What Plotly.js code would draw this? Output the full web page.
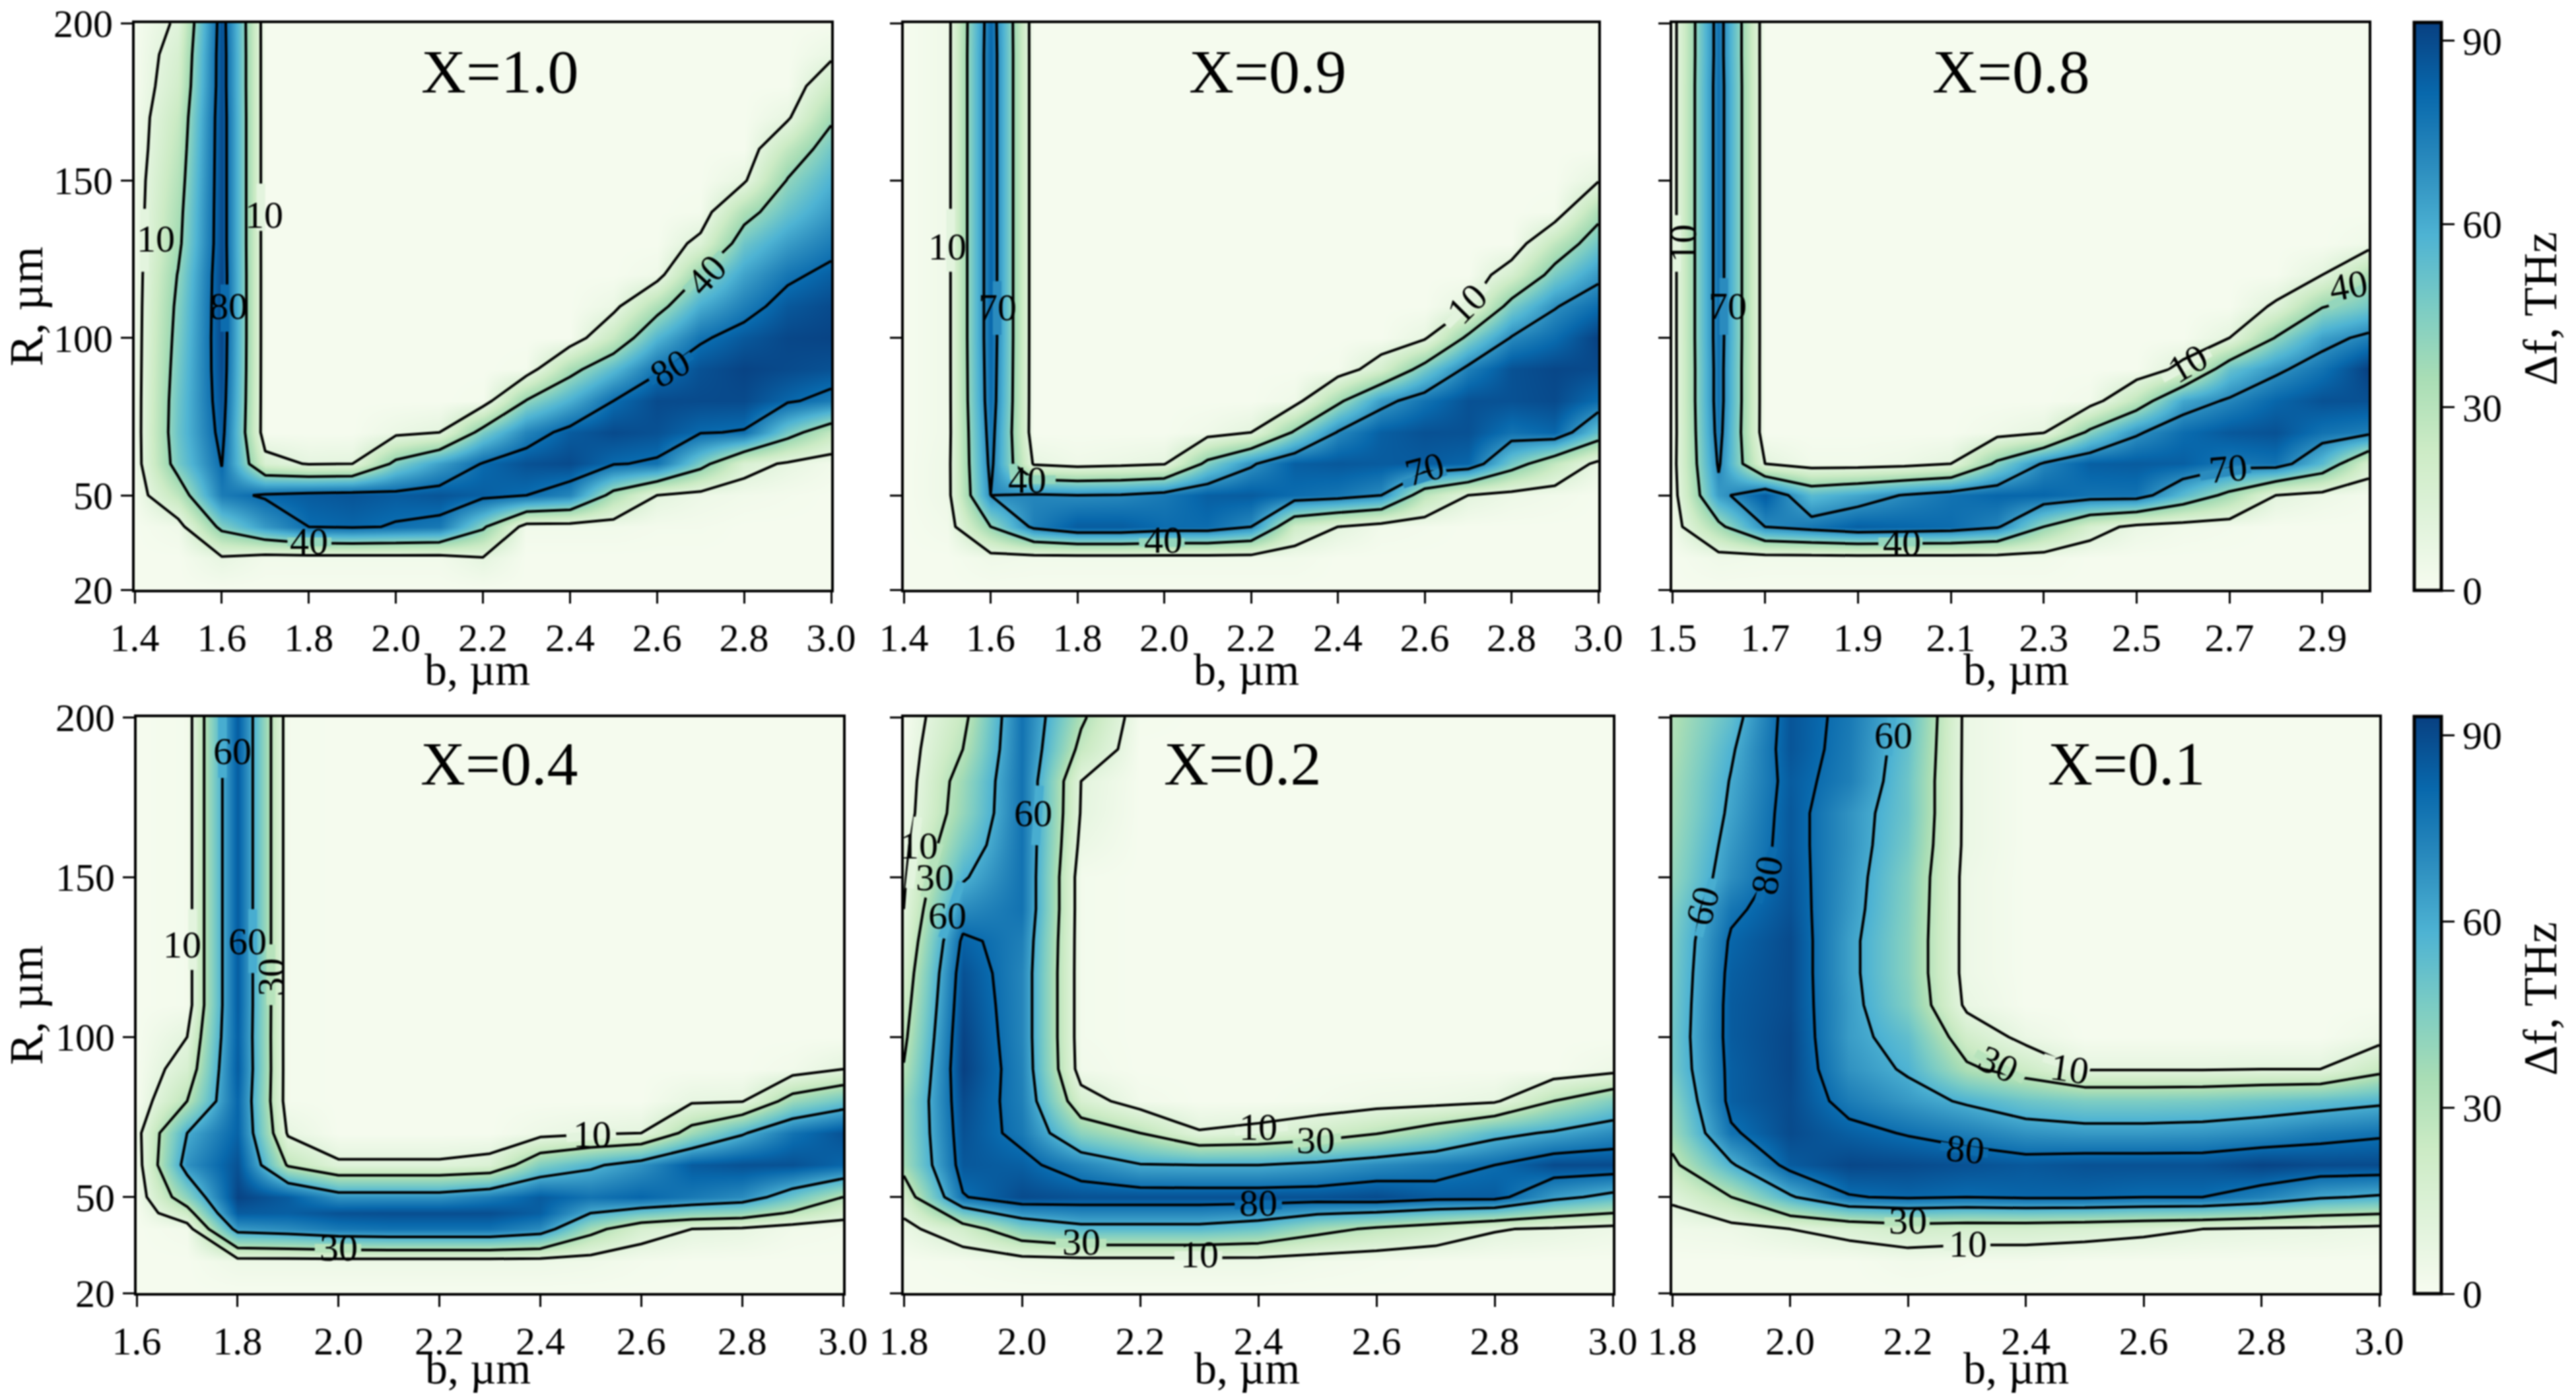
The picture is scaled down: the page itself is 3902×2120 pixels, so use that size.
<!DOCTYPE html>
<html><head><meta charset="utf-8">
<script src="https://cdn.plot.ly/plotly-3.0.1.min.js"></script>
<style>html,body{margin:0;padding:0;background:#fff}#chart{filter:blur(0.9px)}</style></head>
<body><div id="chart" style="width:3902px;height:2120px"></div>
<script>
const R = [20,30,40,50,60,70,80,90,100,110,120,130,140,150,160,170,180,190,200];
const RX04 = [20,30,40,45,50,60,70,80,90,100,110,120,130,140,150,160,170,180,190,200];
const yTicks = [20,50,100,150,200];
const levelsBy = {X10:[10,40,80],X09:[10,40,70],X08:[10,40,70],X04:[10,30,60],X02:[10,30,60,80],X01:[10,30,60,80]};

const bX10 = [1.4,1.5,1.6,1.7,1.8,1.9,2.0,2.1,2.2,2.3,2.4,2.5,2.6,2.7,2.8,2.9,3.0];
const ticksX10 = [1.4,1.6,1.8,2.0,2.2,2.4,2.6,2.8,3.0];
// each inner list: one b column, R ascending
const zX10 = [
[1,1,1,2,3,3,3,3,3,3,3,3,3,3,2,2,1,1,1],
[1,1,4,28,48,51,50,48,46,44,41,36,34,31,28,25,20,17,12],
[1,8,45,75,80.5,85,88,90,91,91,91,90,90,90,90,90,89,89,88],
[1,3,66,82,16,1,1,1,1,1,1,1,1,1,1,1,1,1,1],
[1,3,80,85,9,1,1,1,1,1,1,1,1,1,1,1,1,1,1],
[1,3,82,87,10,1,1,1,1,1,1,1,1,1,1,1,1,1,1],
[1,3,79,85,45,6,1,1,1,1,1,1,1,1,1,1,1,1,1],
[1,3,76,87,64,10,1,1,1,1,1,1,1,1,1,1,1,1,1],
[1,9,43,84,81,47,2,1,1,1,1,1,1,1,1,1,1,1,1],
[1,1,3,80,88,72,41,2,1,1,1,1,1,1,1,1,1,1,1],
[1,1,3,72,90,85,59,34,1,1,1,1,1,1,1,1,1,1,1],
[1,1,3,33,81,90,80,55,25,6,1,1,1,1,1,1,1,1,1],
[1,1,2,10,78,88,90,78,57,33,4,1,1,1,1,1,1,1,1],
[1,1,2,5,47,81,90,88,78,60,41,14,2,1,1,1,1,1,1],
[1,1,1,3,16,79,90,92,86,74,63,50,33,8,1,1,1,1,1],
[1,1,1,2,8,48,82,90,91,86,77,65,52,41,27,8,1,1,1],
[1,1,1,1,3,26,75,88,92,90,84,75,66,58,49,37,22,7,1]];

const bX09 = [1.4,1.5,1.6,1.7,1.8,1.9,2.0,2.1,2.2,2.3,2.4,2.5,2.6,2.7,2.8,2.9,3.0];
const ticksX09 = [1.4,1.6,1.8,2.0,2.2,2.4,2.6,2.8,3.0];
const zX09 = [
[1,1,1,1,1,1,1,1,1,1,1,1,1,1,1,1,1,1,1],
[1,1,3,5,5,4,4,4,4,4,4,4,4,4,4,4,4,4,4],
[1,4,40,70,74,77,80,81,82,82,82,82,82,82,82,82,82,82,81],
[1,3,74,72,8,1,1,1,1,1,1,1,1,1,1,1,1,1,1],
[1,3,85,70,4,1,1,1,1,1,1,1,1,1,1,1,1,1,1],
[1,3,85,71,6,1,1,1,1,1,1,1,1,1,1,1,1,1,1],
[1,3,80,76,9,1,1,1,1,1,1,1,1,1,1,1,1,1,1],
[1,3,80,84,45,4,1,1,1,1,1,1,1,1,1,1,1,1,1],
[1,3,70,85,68,10,1,1,1,1,1,1,1,1,1,1,1,1,1],
[1,3,21,80,84,42,4,1,1,1,1,1,1,1,1,1,1,1,1],
[1,1,10,77,86,71,36,2,1,1,1,1,1,1,1,1,1,1,1],
[1,1,3,70,85,84,65,18,1,1,1,1,1,1,1,1,1,1,1],
[1,1,2,28,85,88,78,48,8,1,1,1,1,1,1,1,1,1,1],
[1,1,1,10,82,88,88,74,44,9,1,1,1,1,1,1,1,1,1],
[1,1,1,5,49,78,88,88,71,47,18,1,1,1,1,1,1,1,1],
[1,1,1,3,26,82,90,91,80,69,47,27,2,1,1,1,1,1,1],
[1,1,1,1,6,52,80,90,93,80,66,50,34,9,1,1,1,1,1]];

const bX08 = [1.5,1.6,1.7,1.8,1.9,2.0,2.1,2.2,2.3,2.4,2.5,2.6,2.7,2.8,2.9,3.0];
const ticksX08 = [1.5,1.7,1.9,2.1,2.3,2.5,2.7,2.9];
const zX08 = [
[1,1,3,3,4,3,3,3,3,3,3,3,3,3,3,3,3,3,3],
[1,4,35,65,72,76,78,78,79,79,79,79,79,79,79,79,79,78,78],
[1,3,70,85,10,1,1,1,1,1,1,1,1,1,1,1,1,1,1],
[1,3,77,55,3,1,1,1,1,1,1,1,1,1,1,1,1,1,1],
[1,3,84,62,3,1,1,1,1,1,1,1,1,1,1,1,1,1,1],
[1,3,82,71,5,1,1,1,1,1,1,1,1,1,1,1,1,1,1],
[1,3,80,78,10,1,1,1,1,1,1,1,1,1,1,1,1,1,1],
[1,3,72,82,44,4,1,1,1,1,1,1,1,1,1,1,1,1,1],
[1,3,40,82,72,9,1,1,1,1,1,1,1,1,1,1,1,1,1],
[1,1,17,78,84,44,3,1,1,1,1,1,1,1,1,1,1,1,1],
[1,1,6,78,85,68,28,1,1,1,1,1,1,1,1,1,1,1,1],
[1,1,3,55,84,80,62,14,1,1,1,1,1,1,1,1,1,1,1],
[1,1,2,35,76,86,72,52,10,1,1,1,1,1,1,1,1,1,1],
[1,1,1,10,78,88,82,67,41,12,1,1,1,1,1,1,1,1,1],
[1,1,1,5,55,78,88,78,64,39,10,1,1,1,1,1,1,1,1],
[1,1,1,2,17,74,88,93,74,49,33,4,1,1,1,1,1,1,1]];

const bX04 = [1.6,1.7,1.8,1.9,2.0,2.1,2.2,2.3,2.4,2.5,2.6,2.7,2.8,2.9,3.0];
const ticksX04 = [1.6,1.8,2.0,2.2,2.4,2.6,2.8,3.0];
const zX04 = [
[1,1,1,1,2,3,5,1,1,1,1,1,1,1,1,1,1,1,1,1],
[1,1,3,22,42,68,60,30,17,10,2,2,2,2,2,2,2,2,2,2],
[1,5,66,85,92,88,83,82,85,84,85,85,85,85,85,85,85,85,85,85],
[1,5,70,84,85,28,8,2,2,2,2,2,2,2,2,2,2,2,2,2],
[1,5,76,88,68,12,1,1,1,1,1,1,1,1,1,1,1,1,1,1],
[1,5,78,89,68,12,1,1,1,1,1,1,1,1,1,1,1,1,1,1],
[1,5,78,89,68,12,1,1,1,1,1,1,1,1,1,1,1,1,1,1],
[1,5,78,89,75,15,1,1,1,1,1,1,1,1,1,1,1,1,1,1],
[1,5,70,84,85,45,5,1,1,1,1,1,1,1,1,1,1,1,1,1],
[1,4,36,60,78,57,8,1,1,1,1,1,1,1,1,1,1,1,1,1],
[1,2,17,50,82,68,10,1,1,1,1,1,1,1,1,1,1,1,1,1],
[1,1,10,43,76,85,37,8,1,1,1,1,1,1,1,1,1,1,1,1],
[1,1,8,40,70,88,58,9,1,1,1,1,1,1,1,1,1,1,1,1],
[1,1,3,28,50,88,78,38,3,1,1,1,1,1,1,1,1,1,1,1],
[1,1,2,16,30,82,88,50,10,1,1,1,1,1,1,1,1,1,1,1]];

const bX02 = [1.8,1.9,2.0,2.1,2.2,2.3,2.4,2.5,2.6,2.7,2.8,2.9,3.0];
const ticksX02 = [1.8,2.0,2.2,2.4,2.6,2.8,3.0];
const zX02 = [
[1,1,6,18,36,38,38,31,26,22,18,13,10,8,6,3,2,2,1],
[1,2,20,79,86,88,90,93,92,90,88,83,70,58,48,40,38,30,25],
[1,4,45,90,84,76,74,73,72,72,72,74,78,78,78,78,78,78,78],
[1,5,55,88,72,42,17,3,2,2,2,2,2,2,6,9,10,25,33],
[1,5,55,88,61,30,3,1,1,1,1,1,1,1,1,1,1,1,2],
[1,5,55,88,60,11,1,1,1,1,1,1,1,1,1,1,1,1,1],
[1,5,50,88,60,14,1,1,1,1,1,1,1,1,1,1,1,1,1],
[1,3,36,88,64,20,2,1,1,1,1,1,1,1,1,1,1,1,1],
[1,2,27,90,70,29,4,1,1,1,1,1,1,1,1,1,1,1,1],
[1,1,20,85,75,40,5,1,1,1,1,1,1,1,1,1,1,1,1],
[1,1,11,85,80,55,8,1,1,1,1,1,1,1,1,1,1,1,1],
[1,1,8,65,90,62,30,1,1,1,1,1,1,1,1,1,1,1,1],
[1,1,5,55,90,70,45,5,1,1,1,1,1,1,1,1,1,1,1]];

const bX01 = [1.8,1.9,2.0,2.1,2.2,2.3,2.4,2.5,2.6,2.7,2.8,2.9,3.0];
const ticksX01 = [1.8,2.0,2.2,2.4,2.6,2.8,3.0];
const zX01 = [
[1,1,4,12,26,37,42,48,49,48,47,46,44,40,38,36,35,33,32],
[1,1,5,30,58,78,84,84,85,85,84,82,77,69,66,63,61,58,53],
[1,1,10,58,85,90,90,91,91,90,90,90,88,87,86,86,85,87,87],
[1,1,15,79,91,84,75,68,65,65,64,64,66,67,68,68,74,75,76],
[1,3,20,82,90,79,66,58,53,45,43,43,44,45,48,50,50,52,54],
[1,2,18,80,88,74,58,33,20,7,5,5,5,5,6,6,6,6,6],
[1,2,18,82,86,68,50,22,6,1,1,1,1,1,1,1,1,1,1],
[1,1,16,82,88,66,46,9,1,1,1,1,1,1,1,1,1,1,1],
[1,1,13,80,88,66,46,9,1,1,1,1,1,1,1,1,1,1,1],
[1,1,10,80,88,67,47,9,1,1,1,1,1,1,1,1,1,1,1],
[1,1,8,73,92,70,50,10,1,1,1,1,1,1,1,1,1,1,1],
[1,1,7,62,90,75,53,10,1,1,1,1,1,1,1,1,1,1,1],
[1,1,5,58,90,78,57,25,5,1,1,1,1,1,1,1,1,1,1]];

// contour labels: text, b, R, angle
const labelsX10 = [['10',1.449,131.6,0],['10',1.697,139,0],['80',1.616,110,0],['40',2.713,120,-47],['80',2.63,90.4,-30],['40',1.80,35.5,0]];
const labelsX09 = [['10',1.5,129,0],['70',1.616,109.6,0],['40',1.684,55,0],['40',1.998,35.8,0],['70',2.6,58.2,-15],['10',2.698,111,-45]];
const labelsX08 = [['10',1.524,130,-90],['70',1.62,110,0],['40',1.995,35,0],['10',2.61,91.8,-30],['70',2.697,58.5,-5],['40',2.956,116.7,-10]];
const labelsX04 = [['60',1.79,189.4,0],['10',1.69,128.9,0],['60',1.82,130,0],['30',1.866,118.8,-90],['10',2.503,69.6,0],['30',2.0,34.2,0]];
const labelsX02 = [['10',1.826,159.8,0],['30',1.852,150,0],['60',1.874,138,0],['60',2.019,170,0],['10',2.4,71.9,0],['30',2.497,67.7,0],['80',2.4,48.2,0],['30',2.1,35.9,0],['10',2.3,32.1,0]];
const labelsX01 = [['60',2.175,194.3,0],['60',1.851,140.9,-75],['80',1.961,150.5,-80],['30',2.354,91.5,25],['10',2.474,90,8],['80',2.298,65,5],['30',2.2,42.6,0],['10',2.302,35.3,0]];

// where each contour line is interrupted for its label: level, b0, R0, b1, R1
const gapsX10 = [[10,1.423,121,1.423,141],[10,1.69,134,1.69,149],[80,1.607,102,1.607,117],[40,2.665,115,2.75,127],[80,2.585,86,2.68,94.5],[40,1.751,35.2,1.852,35.2]];
const gapsX09 = [[10,1.508,121,1.508,141],[70,1.615,101,1.615,118],[40,1.652,60,1.655,55],[40,1.65,55,1.75,55],[40,1.942,35,2.047,35],[70,2.55,53.5,2.65,57.7],[10,2.651,103.9,2.744,116.7]];
const gapsX08 = [[10,1.509,121,1.509,139],[70,1.611,101,1.611,119],[40,1.944,35.2,2.039,35.2],[10,2.556,87,2.659,95.4],[70,2.637,56,2.746,58.5],[40,2.915,110,3.0,116.6]];
const gapsX04 = [[60,1.77,181,1.77,200],[10,1.711,121,1.711,140],[60,1.83,120,1.83,140],[30,1.866,110,1.866,129],[10,2.452,68.5,2.55,70],[30,1.953,34,2.045,34]];
const gapsX02 = [[10,1.824,168.8,1.81,146.5],[30,1.86,160.5,1.835,143.7],[60,1.897,148.6,1.865,131],[60,2.03,178.6,2.023,160],[10,2.36,70.5,2.45,72],[30,2.459,66.5,2.54,68.7],[80,2.36,47.5,2.44,47.5],[30,2.057,35.6,2.143,35.6],[10,2.258,31.7,2.339,31.7]];
const gapsX01 = [[60,2.173,200,2.166,188],[60,1.869,149.6,1.845,131.4],[80,1.972,159.4,1.946,141.9],[30,2.315,95,2.396,86.6],[10,2.43,93.6,2.508,89.2],[80,2.255,66,2.336,63.6],[30,2.16,42.3,2.237,42.3],[10,2.26,34.5,2.34,34.5]];

const headings = [['X=1.0',2.238,184.7],['X=0.9',2.238,184.7],['X=0.8',2.229,184.7],['X=0.4',2.318,185.5],['X=0.2',2.373,185.5],['X=0.1',2.571,185.5]];
const bTitleCentres = [723,1888,3054,724,1889,3054];
const colorbarTitleCentres = [468,1513];

const W = 3902, H = 2120;
const GnBu = ['#f7fcf0','#e0f3db','#ccebc5','#a8ddb5','#7bccc4','#4eb3d3','#2b8cbe','#0868ac','#084081'];
const colorscale = GnBu.map((c,i)=>[i/8,c]);
const ZMAX = 93;
const FONT = '"Liberation Serif","Times New Roman",serif';
function levelColor(v){
  const t = Math.min(1,v/ZMAX)*8, i = Math.min(7,Math.floor(t)), f = t-i;
  const p = s=>[1,3,5].map(k=>parseInt(s.substr(k,2),16));
  const a = p(GnBu[i]), b = p(GnBu[i+1]);
  return 'rgb('+a.map((x,k)=>Math.round(x+(b[k]-x)*f)).join(',')+')';
}
const panels = [
 {b:bX10,y:R,z:zX10,t:ticksX10,lv:levelsBy.X10,lab:labelsX10,gap:gapsX10,px:[204,1259],py:[35,893]},
 {b:bX09,y:R,z:zX09,t:ticksX09,lv:levelsBy.X09,lab:labelsX09,gap:gapsX09,px:[1369,2421],py:[35,893]},
 {b:bX08,y:R,z:zX08,t:ticksX08,lv:levelsBy.X08,lab:labelsX08,gap:gapsX08,px:[2533,3588],py:[35,893]},
 {b:bX04,y:RX04,z:zX04,t:ticksX04,lv:levelsBy.X04,lab:labelsX04,gap:gapsX04,px:[207,1277],py:[1086,1958]},
 {b:bX02,y:R,z:zX02,t:ticksX02,lv:levelsBy.X02,lab:labelsX02,gap:gapsX02,px:[1369,2443],py:[1086,1958]},
 {b:bX01,y:R,z:zX01,t:ticksX01,lv:levelsBy.X01,lab:labelsX01,gap:gapsX01,px:[2533,3604],py:[1086,1958]}
];
const traces=[], annotations=[], shapes=[];
const layout = {width:W,height:H,margin:{l:0,r:0,t:0,b:0,pad:0},paper_bgcolor:'#fff',plot_bgcolor:'#fff',showlegend:false,
  font:{family:FONT,color:'#000'}};
panels.forEach((p,i)=>{
  const n = i+1, xa = n===1?'x':'x'+n, ya = n===1?'y':'y'+n;
  const xk = n===1?'xaxis':'xaxis'+n, yk = n===1?'yaxis':'yaxis'+n;
  const isRight = n===3||n===6;
  const cb = isRight ? {x:3657/W,xanchor:'left',xpad:0,ypad:0,thickness:41,thicknessmode:'pixels',
      len:(p.py[1]-p.py[0]+2)/H,lenmode:'fraction',y:1-(p.py[0]+p.py[1])/2/H,yanchor:'middle',
      outlinewidth:5,outlinecolor:'#000',ticks:'outside',ticklen:18,tickwidth:3,tickcolor:'#000',
      tickmode:'array',tickvals:[0,30,60,90],ticktext:['0','30','60','90'],
      tickfont:{family:FONT,size:60,color:'#000'}} : undefined;
  traces.push({type:'heatmap',x:p.b,y:p.y,z:p.z,transpose:true,zsmooth:'best',zmin:0,zmax:ZMAX,colorscale,
    showscale:isRight,colorbar:cb,xaxis:xa,yaxis:ya,hoverinfo:'skip'});
  p.lv.forEach(L=>traces.push({type:'contour',x:p.b,y:p.y,z:p.z,transpose:true,autocontour:false,
    contours:{start:L,end:L,size:1,coloring:'none',showlines:true,showlabels:false},
    line:{color:'#000',width:4,smoothing:0},showscale:false,xaxis:xa,yaxis:ya,hoverinfo:'skip'}));
  layout[xk] = {domain:[p.px[0]/W,p.px[1]/W],range:[p.b[0],3.0],anchor:ya,tickmode:'array',tickvals:p.t,
    ticktext:p.t.map(v=>v.toFixed(1)),ticks:'outside',ticklen:17,tickwidth:3,tickcolor:'#000',
    tickfont:{family:FONT,size:60,color:'#000'},showline:true,mirror:true,linewidth:4,linecolor:'#000',showgrid:false,zeroline:false};
  layout[yk] = {domain:[1-p.py[1]/H,1-p.py[0]/H],range:[20,200],anchor:xa,tickmode:'array',tickvals:yTicks,
    ticktext:yTicks.map(String),ticks:'outside',ticklen:17,tickwidth:3,tickcolor:'#000',showticklabels:n===1||n===4,
    tickfont:{family:FONT,size:60,color:'#000'},showline:true,mirror:true,linewidth:4,linecolor:'#000',showgrid:false,zeroline:false,
    title:(n===1||n===4)?{text:'R, µm',font:{family:FONT,size:72,color:'#000'},standoff:0}:undefined};
  p.gap.forEach(g=>shapes.push({type:'line',xref:xa,yref:ya,x0:g[1],y0:g[2],x1:g[3],y1:g[4],layer:'above',
    line:{color:levelColor(g[0]),width:13}}));
  p.lab.forEach(l=>annotations.push({xref:xa,yref:ya,x:l[1],y:l[2],text:l[0],textangle:l[3],showarrow:false,
    xanchor:'center',yanchor:'middle',font:{family:FONT,size:58,color:'#000'}}));
  const h = headings[i];
  annotations.push({xref:xa,yref:ya,x:h[1],y:h[2],text:h[0],showarrow:false,xanchor:'center',yanchor:'middle',
    font:{family:FONT,size:94,color:'#000'}});
  annotations.push({xref:'paper',yref:'paper',x:bTitleCentres[i]/W,y:1-(n>3?2072:1014)/H,text:'b, µm',showarrow:false,
    xanchor:'center',yanchor:'middle',font:{family:FONT,size:68,color:'#000'}});
});
colorbarTitleCentres.forEach(c=>annotations.push({xref:'paper',yref:'paper',x:3848/W,y:1-c/H,text:'Δf, THz',textangle:-90,
  showarrow:false,xanchor:'center',yanchor:'middle',font:{family:FONT,size:72,color:'#000'}}));
layout.annotations = annotations; layout.shapes = shapes;
Plotly.newPlot('chart',traces,layout,{staticPlot:true,displayModeBar:false});
</script></body></html>
